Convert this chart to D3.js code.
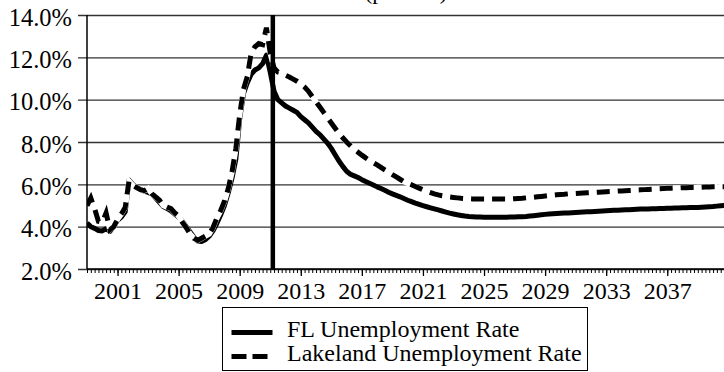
<!DOCTYPE html>
<html>
<head>
<meta charset="utf-8">
<script src="https://cdn.jsdelivr.net/npm/d3@7"></script>
<style>
  html, body { margin: 0; padding: 0; background: #fff; }
  svg { display: block; font-family: "Liberation Serif", "Times New Roman", serif; }
</style>
</head>
<body>
<svg id="chart" width="724" height="372"></svg>
<script>
// Quarterly series, first quarter of 1999 through last quarter of 2040
const startYear = 1999;
const quartersPerYear = 4;

// Florida unemployment rate (%), four quarters per row
const flRate = [
  4.17, 4.00, 3.92, 3.82,   // 1999
  3.80, 3.90, 3.78, 4.00,   // 2000
  4.30, 4.45, 4.70, 6.20,   // 2001
  6.00, 5.85, 5.75, 5.68,   // 2002
  5.62, 5.55, 5.35, 5.15,   // 2003
  4.95, 4.85, 4.75, 4.60,   // 2004
  4.45, 4.25, 4.00, 3.75,   // 2005
  3.50, 3.32, 3.30, 3.38,   // 2006
  3.55, 3.80, 4.15, 4.55,   // 2007
  5.00, 5.60, 6.30, 7.20,   // 2008
  9.10, 10.30, 10.80, 11.20, // 2009
  11.40, 11.50, 11.70, 12.10, // 2010
  11.30, 10.40, 10.00, 9.85, // 2011
  9.70, 9.60, 9.50, 9.40,   // 2012
  9.20, 9.05, 8.90, 8.70,   // 2013
  8.50, 8.35, 8.15, 7.95,   // 2014
  7.70, 7.40, 7.10, 6.85,   // 2015
  6.62, 6.48, 6.40, 6.32,   // 2016
  6.22, 6.13, 6.05, 5.97,   // 2017
  5.88, 5.80, 5.72, 5.63,   // 2018
  5.55, 5.48, 5.41, 5.33,   // 2019
  5.25, 5.18, 5.11, 5.05,   // 2020
  4.99, 4.94, 4.89, 4.84,   // 2021
  4.79, 4.74, 4.69, 4.64,   // 2022
  4.60, 4.56, 4.53, 4.50,   // 2023
  4.48, 4.47, 4.46, 4.46,   // 2024
  4.45, 4.45, 4.45, 4.45,   // 2025
  4.45, 4.45, 4.45, 4.46,   // 2026
  4.46, 4.47, 4.47, 4.48,   // 2027
  4.50, 4.52, 4.54, 4.56,   // 2028
  4.58, 4.60, 4.61, 4.62,   // 2029
  4.63, 4.64, 4.65, 4.66,   // 2030
  4.67, 4.68, 4.69, 4.70,   // 2031
  4.71, 4.72, 4.73, 4.74,   // 2032
  4.75, 4.76, 4.77, 4.78,   // 2033
  4.79, 4.80, 4.80, 4.81,   // 2034
  4.82, 4.83, 4.83, 4.84,   // 2035
  4.85, 4.85, 4.86, 4.86,   // 2036
  4.87, 4.87, 4.88, 4.88,   // 2037
  4.89, 4.89, 4.90, 4.90,   // 2038
  4.91, 4.92, 4.93, 4.94,   // 2039
  4.95, 4.97, 4.99, 5.00    // 2040
];

// Lakeland unemployment rate (%), four quarters per row
const lakelandRate = [
  5.00, 5.35, 4.85, 4.25,   // 1999
  4.20, 4.65, 3.85, 4.00,   // 2000
  4.35, 4.60, 4.90, 6.15,   // 2001
  5.95, 5.85, 5.75, 5.70,   // 2002
  5.80, 5.55, 5.40, 5.25,   // 2003
  5.00, 4.92, 4.85, 4.65,   // 2004
  4.50, 4.20, 3.95, 3.65,   // 2005
  3.45, 3.35, 3.45, 3.55,   // 2006
  3.65, 3.95, 4.40, 4.75,   // 2007
  5.20, 5.80, 6.60, 7.70,   // 2008
  9.30, 10.50, 11.10, 12.20, // 2009
  12.50, 12.65, 12.60, 13.40, // 2010
  12.20, 11.50, 11.30, 11.25, // 2011
  11.15, 11.07, 10.97, 10.87, // 2012
  10.75, 10.60, 10.40, 10.15, // 2013
  9.90, 9.65, 9.40, 9.15,   // 2014
  8.90, 8.65, 8.40, 8.20,   // 2015
  8.00, 7.83, 7.66, 7.52,   // 2016
  7.38, 7.25, 7.13, 7.02,   // 2017
  6.92, 6.80, 6.68, 6.57,   // 2018
  6.46, 6.35, 6.24, 6.13,   // 2019
  6.05, 5.98, 5.90, 5.82,   // 2020
  5.74, 5.67, 5.61, 5.55,   // 2021
  5.50, 5.46, 5.43, 5.40,   // 2022
  5.38, 5.36, 5.34, 5.33,   // 2023
  5.32, 5.31, 5.31, 5.31,   // 2024
  5.31, 5.31, 5.31, 5.31,   // 2025
  5.31, 5.31, 5.31, 5.31,   // 2026
  5.32, 5.33, 5.34, 5.36,   // 2027
  5.37, 5.39, 5.41, 5.43,   // 2028
  5.45, 5.47, 5.49, 5.51,   // 2029
  5.52, 5.53, 5.55, 5.56,   // 2030
  5.57, 5.58, 5.59, 5.60,   // 2031
  5.61, 5.62, 5.63, 5.64,   // 2032
  5.65, 5.66, 5.67, 5.68,   // 2033
  5.69, 5.70, 5.71, 5.72,   // 2034
  5.73, 5.74, 5.75, 5.76,   // 2035
  5.77, 5.78, 5.79, 5.80,   // 2036
  5.81, 5.82, 5.83, 5.83,   // 2037
  5.84, 5.84, 5.85, 5.85,   // 2038
  5.86, 5.86, 5.87, 5.87,   // 2039
  5.88, 5.88, 5.89, 5.89    // 2040
];

const yearLabels = [2001, 2005, 2009, 2013, 2017, 2021, 2025, 2029, 2033, 2037];
const yTicks = [2, 4, 6, 8, 10, 12, 14];
const forecastStart = 2011.17;   // vertical marker between history and forecast
const seriesNames = ["FL Unemployment Rate", "Lakeland Unemployment Rate"];

const svg = d3.select("#chart");
const W = 724;
const plotLeft = 87, plotTop = 15, plotBottom = 269;
const pxPerYear = 15.27;
const seriesWidth = 5;

const x = d3.scaleLinear().domain([1999, 2041]).range([plotLeft, plotLeft + 42 * pxPerYear]);
const y = d3.scaleLinear().domain([2, 14]).range([plotBottom, plotTop]);

const quarterOf = i => startYear + i / quartersPerYear;

// Title (its second line sits at the top edge)
svg.append("text")
  .attr("x", 406).attr("y", -1)
  .attr("text-anchor", "middle")
  .attr("font-size", 23)
  .text("(percent)");

// Horizontal gridlines with outward ticks on the value axis
const yAxis = d3.axisLeft(y)
  .tickValues(yTicks)
  .tickSize(-(W - plotLeft))
  .tickPadding(0)
  .tickFormat(d => d.toFixed(1) + "%");

const gy = svg.append("g")
  .attr("transform", `translate(${plotLeft},0)`)
  .call(yAxis);
gy.select(".domain").remove();
gy.selectAll(".tick line")
  .attr("x1", -9)
  .attr("stroke", "#333")
  .attr("stroke-width", 1.4);
gy.selectAll(".tick text")
  .attr("x", -15)
  .attr("dy", "0.42em")
  .attr("font-size", 24.5)
  .attr("fill", "#000")
  .attr("font-family", "Liberation Serif, Times New Roman, serif");

// Series lines
svg.append("clipPath").attr("id", "plot-clip")
  .append("rect").attr("x", plotLeft).attr("y", 0)
  .attr("width", W - plotLeft).attr("height", plotBottom + 2);

const line = d3.line()
  .x((d, i) => x(quarterOf(i)))
  .y(d => y(d));

const plot = svg.append("g").attr("clip-path", "url(#plot-clip)");

plot.append("path")
  .datum(flRate)
  .attr("d", line)
  .attr("fill", "none")
  .attr("stroke", "#000")
  .attr("stroke-width", seriesWidth)
  .attr("stroke-linejoin", "round");

plot.append("path")
  .datum(lakelandRate)
  .attr("d", line)
  .attr("fill", "none")
  .attr("stroke", "#fff")
  .attr("stroke-width", seriesWidth + 0.5);

plot.append("path")
  .datum(lakelandRate)
  .attr("d", line)
  .attr("fill", "none")
  .attr("stroke", "#000")
  .attr("stroke-width", seriesWidth)
  .attr("stroke-dasharray", "13,8");

// Forecast marker
svg.append("line")
  .attr("x1", x(forecastStart)).attr("x2", x(forecastStart))
  .attr("y1", y(14)).attr("y2", y(2))
  .attr("stroke", "#000")
  .attr("stroke-width", 4.5);

// Time axis: quarterly minor ticks, labelled major ticks every four years
const minorTicks = d3.range(0, 42 * quartersPerYear + 1).map(quarterOf);
const gMinor = svg.append("g")
  .attr("transform", `translate(0,${plotBottom})`)
  .call(d3.axisBottom(x).tickValues(minorTicks).tickSize(4).tickFormat(""));
gMinor.selectAll(".tick line").attr("stroke", "#000").attr("stroke-width", 1);
gMinor.select(".domain").remove();

const gMajor = svg.append("g")
  .attr("transform", `translate(0,${plotBottom})`)
  .call(d3.axisBottom(x).tickValues(yearLabels).tickSize(7).tickPadding(6).tickFormat(d3.format("d")));
gMajor.select(".domain").remove();
gMajor.selectAll(".tick line").attr("stroke", "#000").attr("stroke-width", 1.3);
gMajor.selectAll(".tick text")
  .attr("font-size", 24)
  .attr("fill", "#000")
  .attr("font-family", "Liberation Serif, Times New Roman, serif");

// Axis lines
svg.append("line")
  .attr("x1", plotLeft).attr("x2", W)
  .attr("y1", plotBottom).attr("y2", plotBottom)
  .attr("stroke", "#000").attr("stroke-width", 1.5);
svg.append("line")
  .attr("x1", plotLeft).attr("x2", plotLeft)
  .attr("y1", plotTop).attr("y2", plotBottom)
  .attr("stroke", "#000").attr("stroke-width", 1.5);

// Legend
const legend = svg.append("g");
legend.append("rect")
  .attr("x", 222.5).attr("y", 307.5)
  .attr("width", 365).attr("height", 63)
  .attr("fill", "#fff")
  .attr("stroke", "#000")
  .attr("stroke-width", 1);

const legendRows = [
  { name: seriesNames[0], dash: null, y: 332.5 },
  { name: seriesNames[1], dash: "15,6", y: 356.5 }
];
legendRows.forEach(r => {
  legend.append("line")
    .attr("x1", 231.5).attr("x2", 272.5)
    .attr("y1", r.y).attr("y2", r.y)
    .attr("stroke", "#000")
    .attr("stroke-width", seriesWidth)
    .attr("stroke-dasharray", r.dash);
  legend.append("text")
    .attr("x", 287).attr("y", r.y + 4.5)
    .attr("font-size", 24)
    .attr("fill", "#000")
    .text(r.name);
});
</script>
</body>
</html>
